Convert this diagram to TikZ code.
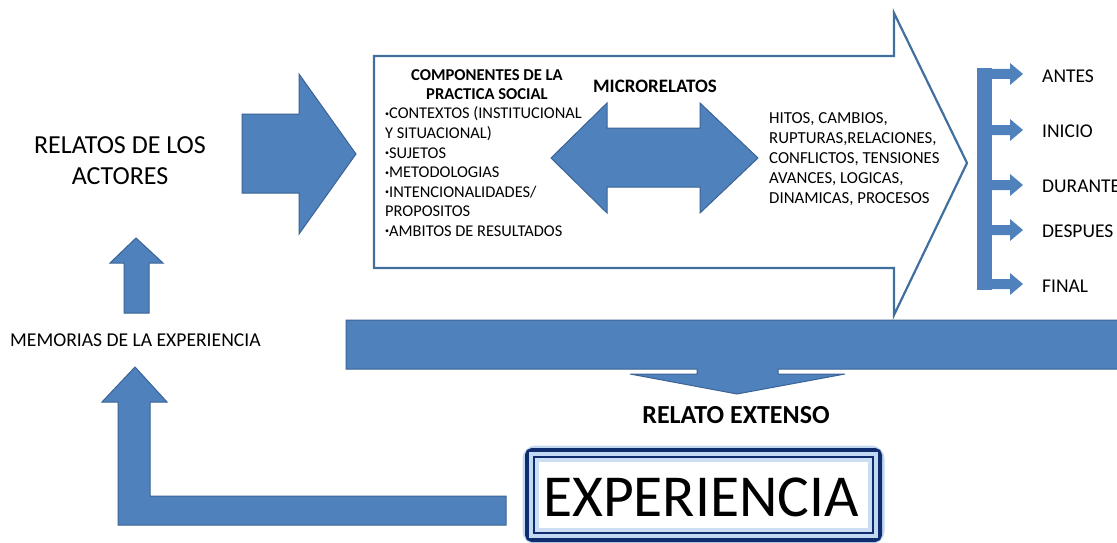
\documentclass[tikz,border=0pt]{standalone}
\usepackage{fontspec}
\setmainfont{Carlito}
\definecolor{fillblue}{HTML}{4F81BD}
\definecolor{edgeblue}{HTML}{3B6395}
\definecolor{outlineblue}{HTML}{41709F}
\definecolor{navy}{HTML}{0E2C6E}
\definecolor{glowblue}{HTML}{A9C8EC}
\newcommand{\smbul}{\raisebox{0.28ex}{\fontsize{8}{8}\selectfont •}}
\begin{document}
\begin{tikzpicture}[x=1pt,y=-1pt,
  blockarrow/.style={fill=fillblue, draw=edgeblue, line width=1pt, line join=miter},
  lbl/.style={inner sep=0pt, text=black},
  listtxt/.style={lbl, anchor=base west, font=\fontsize{16.4}{19}\selectfont},
  hitotxt/.style={lbl, anchor=base west, font=\fontsize{16.8}{19}\selectfont},
  stagetxt/.style={lbl, anchor=west, font=\fontsize{19.5}{22}\selectfont}]
\useasboundingbox (0,0) rectangle (1117,543);
\fill[white] (0,0) rectangle (1117,543);

% big outlined arrow
\path[fill=white, draw=outlineblue, line width=2.2pt, line join=miter]
  (374,56) -- (894,56) -- (894,13) -- (967,163) -- (894,315) -- (894,268) -- (374,268) -- cycle;

% arrow from RELATOS
\path[blockarrow] (242,114) -- (299,114) -- (299,74) -- (356,154) -- (299,234) -- (299,193) -- (242,193) -- cycle;

% small up arrow
\path[blockarrow] (124,313) -- (124,263) -- (110,263) -- (136,238) -- (163,263) -- (149,263) -- (149,313) -- cycle;

% L-shaped arrow from EXPERIENCIA
\path[blockarrow] (118,525) -- (118,402) -- (102,402) -- (135,367) -- (167,402) -- (150,402) -- (150,496) -- (506,496) -- (506,525) -- cycle;

% double arrow
\path[blockarrow] (551,158) -- (607,103) -- (607,128) -- (700,128) -- (700,103) -- (758,158) -- (700,213) -- (700,187) -- (607,187) -- (607,213) -- cycle;

% bar with down arrow
\path[blockarrow] (346,320) -- (1125,320) -- (1125,369) -- (778,369) -- (778,374) -- (845,374) -- (737,394) -- (630,374) -- (697,374) -- (697,369) -- (346,369) -- cycle;

% bracket of stages
\path[blockarrow, draw=none] (977,68) rectangle (992,290);
\foreach \c in {74,130,185,230,284}{
  \path[blockarrow, draw=none] (991,\c-5) -- (1010,\c-5) -- (1010,\c-11) -- (1023,\c) -- (1010,\c+11) -- (1010,\c+5) -- (991,\c+5) -- cycle;
}

% EXPERIENCIA box
\draw[glowblue, line width=9pt, rounded corners=9pt, opacity=0.7] (527,450) rectangle (880,540);
\draw[navy, line width=4pt, rounded corners=5pt] (527,450) rectangle (880,540);
\fill[glowblue!70] (529,452) rectangle (878,538);
\draw[navy, line width=2pt] (534,457) rectangle (873,533);
\fill[glowblue!60] (535,458) rectangle (872,532);
\fill[white] (539,462) rectangle (868,528);
\node[lbl, font=\fontsize{59.5}{62}\selectfont] (exp) at (701,497) {EXPERIENCIA};

% texts
\node[lbl, font=\fontsize{26}{31}\selectfont, align=center] (relatos) at (120,161) {RELATOS DE LOS\\ACTORES};
\node[lbl, anchor=west, font=\fontsize{19.6}{23}\selectfont] (memorias) at (10,340) {MEMORIAS DE LA EXPERIENCIA};
\node[lbl, font=\bfseries\fontsize{16.6}{19}\selectfont, align=center] (comp) at (487,85) {COMPONENTES DE LA\\PRACTICA SOCIAL};
\node[lbl, font=\bfseries\fontsize{19}{22}\selectfont] (micro) at (655,86) {MICRORELATOS};
\node[listtxt] (l1) at (385,118.5) {\smbul CONTEXTOS (INSTITUCIONAL};
\node[listtxt] (l2) at (385,138) {Y SITUACIONAL)};
\node[listtxt] (l3) at (385,158) {\smbul SUJETOS};
\node[listtxt] (l4) at (385,177.5) {\smbul METODOLOGIAS};
\node[listtxt] (l5) at (385,197) {\smbul INTENCIONALIDADES/};
\node[listtxt] (l6) at (385,216.5) {PROPOSITOS};
\node[listtxt] (l7) at (385,236) {\smbul AMBITOS DE RESULTADOS};
\node[hitotxt] (h1) at (769,123.5) {HITOS, CAMBIOS,};
\node[hitotxt] (h2) at (769,143.5) {RUPTURAS,RELACIONES,};
\node[hitotxt] (h3) at (769,163.5) {CONFLICTOS, TENSIONES};
\node[hitotxt] (h4) at (769,183.5) {AVANCES, LOGICAS,};
\node[hitotxt] (h5) at (769,203.5) {DINAMICAS, PROCESOS};
\node[lbl, font=\bfseries\fontsize{26}{30}\selectfont] (extenso) at (736,415) {RELATO EXTENSO};
\node[stagetxt] (antes) at (1042,76) {ANTES};
\node[stagetxt] (inicio) at (1042,131) {INICIO};
\node[stagetxt] (durante) at (1042,186) {DURANTE};
\node[stagetxt] (despues) at (1042,231) {DESPUES};
\node[stagetxt] (final) at (1042,286) {FINAL};
\end{tikzpicture}
\end{document}
